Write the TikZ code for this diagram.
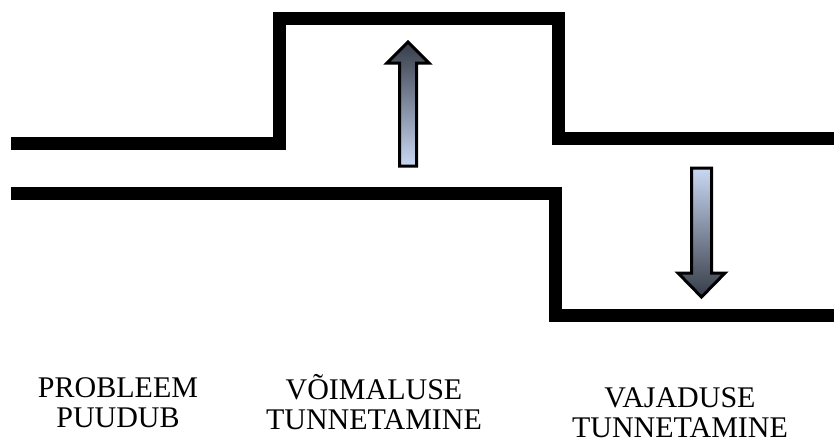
\documentclass[tikz,border=0pt]{standalone}
\usepackage{fontspec}
\setmainfont{Liberation Serif}
\usetikzlibrary{positioning}

\definecolor{arrowdark}{HTML}{363C48}
\definecolor{arrowmid}{HTML}{94A2BE}
\definecolor{arrowlight}{HTML}{C9D8F3}

\begin{document}
\begin{tikzpicture}[x=1pt,y=-1pt,
    level/.style={line width=13pt,line join=miter,line cap=butt},
    bigarrow/.style={draw=black,line width=3pt,line join=miter},
    lbl/.style={font=\fontsize{30}{30}\selectfont,align=center,inner sep=0pt}]
  \useasboundingbox (0,0) rectangle (834,444);

  % the two level lines
  \coordinate (u0) at (11,143);
  \coordinate (u1) at (279,143);
  \coordinate (u2) at (279,19);
  \coordinate (u3) at (558,19);
  \coordinate (u4) at (558,138);
  \coordinate (u5) at (834,138);
  \draw[level] (u0) -- (u1) -- (u2) -- (u3) -- (u4) -- (u5);

  \coordinate (l0) at (11,193);
  \coordinate (l1) at (555,193);
  \coordinate (l2) at (555,315);
  \coordinate (l3) at (834,315);
  \draw[level] (l0) -- (l1) -- (l2) -- (l3);

  % block arrows
  \draw[bigarrow,top color=arrowdark,middle color=arrowmid,bottom color=arrowlight]
    (399.5,166) -- (399.5,63) -- (387,63) -- (408,42) -- (429,63)
    -- (416.5,63) -- (416.5,166) -- cycle;
  \draw[bigarrow,top color=arrowlight,middle color=arrowmid,bottom color=arrowdark]
    (691.5,168) -- (691.5,273) -- (678,273) -- (701.5,297) -- (725,273)
    -- (711.5,273) -- (711.5,168) -- cycle;

  \node[lbl] (puudub) at (118,403) {PROBLEEM\\PUUDUB};
  \node[lbl] (voimalus) at (374,402) {VÕIMALUSE\\TUNNETAMINE};
  \node[lbl] (vajadus) at (680,413) {VAJADUSE\\TUNNETAMINE};
\end{tikzpicture}
\end{document}
